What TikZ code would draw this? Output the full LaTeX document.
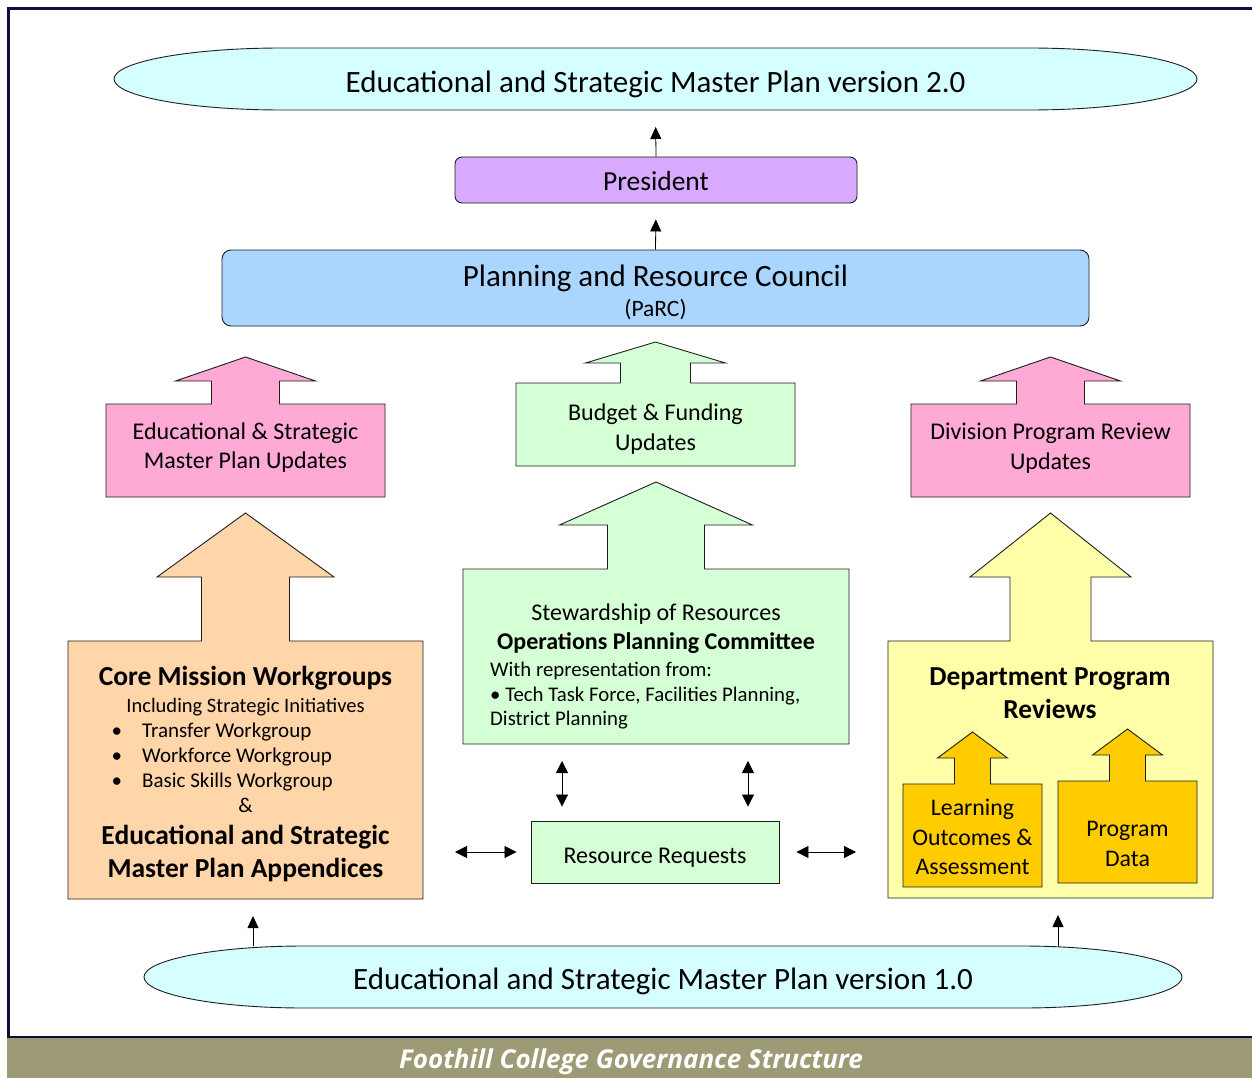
\documentclass[tikz,border=0pt]{standalone}
\usepackage{fontspec}
\setmainfont{Carlito}
\newfontfamily\titlefont{Open Sans}
\usetikzlibrary{arrows.meta,calc}
\definecolor{cyanf}{RGB}{213,255,255}
\definecolor{purpf}{RGB}{215,170,255}
\definecolor{bluef}{RGB}{170,213,255}
\definecolor{pinkf}{RGB}{255,170,213}
\definecolor{greenf}{RGB}{213,255,213}
\definecolor{orangef}{RGB}{255,213,170}
\definecolor{yellowf}{RGB}{255,255,170}
\definecolor{goldf}{RGB}{255,204,0}
\definecolor{olivef}{RGB}{157,155,117}
\definecolor{navyf}{RGB}{14,14,62}
\definecolor{linec}{RGB}{30,30,30}
\newcommand\fsz[1]{\fontsize{#1}{#1}\selectfont}
% block arrow: fill, x1, x2, ytop, ybot, shaft half, head base y, head half, apex y
\newcommand\blkarrow[9]{%
  \filldraw[fill=#1, draw=linec, line width=0.9pt]
    (#2,#5) -- (#2,#4) -- ({(#2+#3)/2-#6},#4) -- ({(#2+#3)/2-#6},#7)
    -- ({(#2+#3)/2-#8},#7) -- ({(#2+#3)/2},#9) -- ({(#2+#3)/2+#8},#7)
    -- ({(#2+#3)/2+#6},#7) -- ({(#2+#3)/2+#6},#4) -- (#3,#4) -- (#3,#5) -- cycle;}
% flattened ellipse: cx, cy, half width, ry, end radius
\newcommand\flatell[5]{%
  \filldraw[fill=cyanf, draw=linec, line width=0.9pt]
    ({#1-#3},#2) .. controls ({#1-#3},{#2-0.5523*#4}) and ({#1-#3+0.4477*#5},{#2-#4}) .. ({#1-#3+#5},{#2-#4})
    -- ({#1+#3-#5},{#2-#4}) .. controls ({#1+#3-0.4477*#5},{#2-#4}) and ({#1+#3},{#2-0.5523*#4}) .. ({#1+#3},#2)
    .. controls ({#1+#3},{#2+0.5523*#4}) and ({#1+#3-0.4477*#5},{#2+#4}) .. ({#1+#3-#5},{#2+#4})
    -- ({#1-#3+#5},{#2+#4}) .. controls ({#1-#3+0.4477*#5},{#2+#4}) and ({#1-#3},{#2+0.5523*#4}) .. ({#1-#3},#2) -- cycle;}
\begin{document}
\begin{tikzpicture}[x=1pt,y=-1pt,
  hold/.style={inner sep=0pt, outer sep=0pt, draw=none},
  txt/.style={anchor=base, inner sep=0pt},
  ltxt/.style={anchor=base west, inner sep=0pt},
  arr/.style={-{Triangle[length=12pt,width=11pt]}, line width=0.8pt},
  dbl/.style={{Triangle[length=12pt,width=12pt]}-{Triangle[length=12pt,width=12pt]}, line width=0.8pt},
  rbox/.style={draw=linec, line width=0.9pt, rounded corners=7pt, inner sep=0pt}]
\useasboundingbox (0,0) rectangle (1252,1078);
\fill[white] (0,0) rectangle (1252,1078);
% frame and title bar
\fill[olivef] (7,1038) rectangle (1252,1078);
\draw[navyf, line width=2.5pt] (8.5,1036.8) -- (8.5,8.5) -- (1252,8.5);
\draw[navyf, line width=2.5pt] (7,1036.8) -- (1252,1036.8);
\node[txt, text=white] (title) at (631,1068) {\titlefont\fsz{26}\bfseries\itshape Foothill College Governance Structure};

% ellipses
\flatell{655.5}{79}{541.5}{31}{168}
\node[hold, minimum width=1083pt, minimum height=62pt] (v2) at (655.5,79) {};
\node[txt] (v2t) at (655.5,93) {\fsz{31}Educational and Strategic Master Plan version 2.0};
\flatell{663}{977}{519}{31}{160}
\node[hold, minimum width=1038pt, minimum height=62pt] (v1) at (663,977) {};
\node[txt] (v1t) at (663,989) {\fsz{31}Educational and Strategic Master Plan version 1.0};

% president and PaRC
\node[rbox, fill=purpf, minimum width=402pt, minimum height=46pt] (pres) at (656,180) {};
\node[txt] (prest) at (656,190) {\fsz{27.5}President};
\node[rbox, fill=bluef, minimum width=867pt, minimum height=76pt, rounded corners=9pt] (parc) at (655.5,288) {};
\node[txt] (parct1) at (655.5,286) {\fsz{31}Planning and Resource Council};
\node[txt] (parct2) at (655.5,316) {\fsz{23.5}(PaRC)};

% update boxes
\blkarrow{pinkf}{106}{385}{404}{497}{34}{381}{70}{357}
\node[txt] (esu1) at (245.5,439) {\fsz{24}Educational \& Strategic};
\node[txt] (esu2) at (245.5,468) {\fsz{24}Master Plan Updates};
\blkarrow{greenf}{516}{795}{383}{466}{35}{363}{70}{342}
\node[txt] (bfu1) at (655.5,420) {\fsz{24}Budget \& Funding};
\node[txt] (bfu2) at (655.5,450) {\fsz{24}Updates};
\blkarrow{pinkf}{911}{1190}{404}{497}{34}{381}{70}{357}
\node[txt] (dpu1) at (1050.5,439) {\fsz{24}Division Program Review};
\node[txt] (dpu2) at (1050.5,469) {\fsz{24}Updates};

% core mission
\blkarrow{orangef}{68}{423}{641}{899}{44}{577}{88.5}{513}
\node[hold, minimum width=355pt, minimum height=258pt] (core) at (245.5,770) {};
\node[txt] (c1) at (245.5,685) {\fsz{27.5}\bfseries Core Mission Workgroups};
\node[txt] (c2) at (245.5,712) {\fsz{20.5}Including Strategic Initiatives};
\node[ltxt] (c3) at (142,737) {\fsz{21}\llap{•\hspace{20pt}}Transfer Workgroup};
\node[ltxt] (c4) at (142,762) {\fsz{21}\llap{•\hspace{20pt}}Workforce Workgroup};
\node[ltxt] (c5) at (142,787) {\fsz{21}\llap{•\hspace{20pt}}Basic Skills Workgroup};
\node[txt] (c6) at (245.5,812) {\fsz{21}\&};
\node[txt] (c7) at (245.5,844) {\fsz{27.5}\bfseries Educational and Strategic};
\node[txt] (c8) at (245.5,877) {\fsz{27.5}\bfseries Master Plan Appendices};

% operations
\blkarrow{greenf}{463}{849}{569}{744}{48.5}{525}{96.5}{482}
\node[hold, minimum width=386pt, minimum height=175pt] (ops) at (656,656.5) {};
\node[txt] (o1) at (656,620) {\fsz{24}Stewardship of Resources};
\node[txt] (o2) at (656,649) {\fsz{24}\bfseries Operations Planning Committee};
\node[ltxt] (o3) at (490,676) {\fsz{20.8}With representation from:};
\node[ltxt] (o4) at (490,701) {\fsz{20.8}• Tech Task Force, Facilities Planning,};
\node[ltxt] (o5) at (490,725) {\fsz{20.8}District Planning};

% department program reviews
\blkarrow{yellowf}{888}{1213}{641}{898}{40.5}{577}{80.5}{513}
\node[hold, minimum width=325pt, minimum height=257pt] (dpr) at (1050.5,769.5) {};
\node[txt] (d1) at (1050,685) {\fsz{27.4}\bfseries Department Program};
\node[txt] (d2) at (1050,718) {\fsz{27.4}\bfseries Reviews};
\blkarrow{goldf}{903}{1042}{784}{887}{18}{758}{35}{732}
\node[txt] (l1) at (972.5,815) {\fsz{23.8}Learning};
\node[txt] (l2) at (972.5,845) {\fsz{23.8}Outcomes \&};
\node[txt] (l3) at (972.5,874) {\fsz{23.8}Assessment};
\blkarrow{goldf}{1058}{1197}{781}{883}{18}{755}{35}{729}
\node[txt] (p1) at (1127.5,836) {\fsz{23.8}Program};
\node[txt] (p2) at (1127.5,866) {\fsz{23.8}Data};

% resource requests
\node[draw=linec, line width=0.9pt, fill=greenf, minimum width=248pt, minimum height=62pt, inner sep=0pt] (rr) at (655,852) {};
\node[txt] (rrt) at (655,863) {\fsz{24}Resource Requests};

% connectors
\coordinate (xl) at (253,0);
\coordinate (xr) at (1058,0);
\coordinate (va) at (562,0);
\coordinate (vb) at (748,0);
\draw[arr, shorten >=17pt] (pres.north) -- (v2.south);
\draw[arr, shorten >=16pt] (parc.north) -- (pres.south);
\draw[arr, shorten >=17pt] (v1.north -| xl) -- (core.south -| xl);
\draw[arr, shorten >=17pt] (v1.north -| xr) -- (dpr.south -| xr);
\draw[dbl, shorten <=17pt, shorten >=14pt] (ops.south -| va) -- (rr.north -| va);
\draw[dbl, shorten <=17pt, shorten >=14pt] (ops.south -| vb) -- (rr.north -| vb);
\draw[dbl, shorten <=32pt, shorten >=14pt] (core.east |- rr.center) -- (rr.west);
\draw[dbl, shorten <=17pt, shorten >=32pt] (rr.east) -- (dpr.west |- rr.center);
\end{tikzpicture}
\end{document}
